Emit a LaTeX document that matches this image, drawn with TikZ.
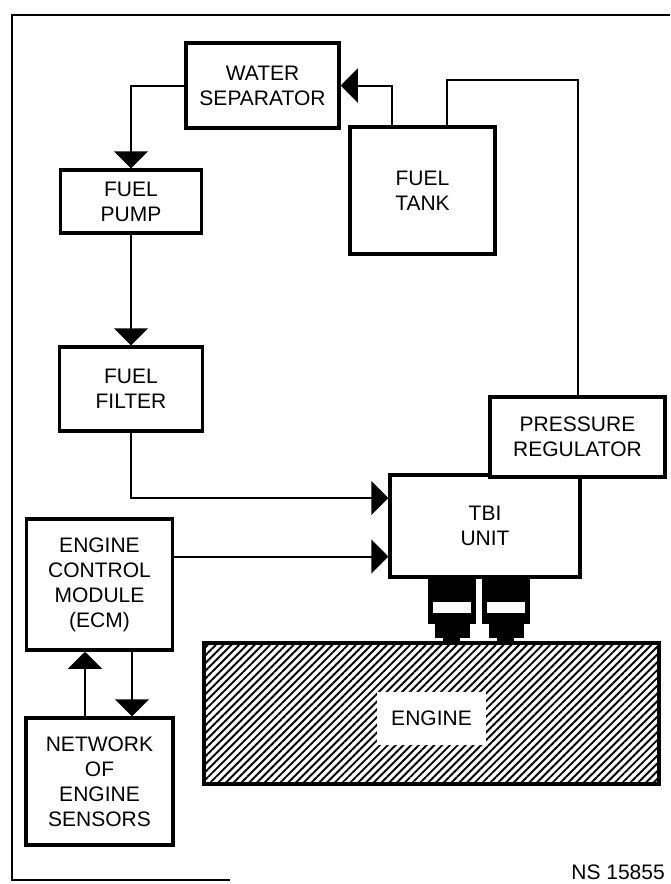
\documentclass[tikz,border=0pt]{standalone}
\usepackage{fontspec}
\setmainfont{Liberation Sans}
\usetikzlibrary{arrows.meta,positioning,patterns.meta}

\begin{document}
\begin{tikzpicture}[x=1pt,y=-1pt,font=\fontsize{21}{25}\selectfont,
 box/.style={draw,line width=3.5pt,fill=white,align=center,inner sep=0pt},
 arrow/.style={-{Triangle[length=17pt,width=34pt]},line width=2pt},
 pipe/.style={line width=2pt}]
\useasboundingbox (0,0) rectangle (670,884);
\draw[pipe] (230,880) -- (12,880) -- (12,15) -- (670,15);
\node[box,minimum width=153pt,minimum height=85pt] (sep) at (262.5,85.5) {WATER\\SEPARATOR};
\node[box,minimum width=145pt,minimum height=127pt] (tank) at (422.5,190.5) {FUEL\\TANK};
\node[box,minimum width=141pt,minimum height=63pt] (pump) at (131,201.5) {FUEL\\PUMP};
\node[box,minimum width=143pt,minimum height=84pt] (filter) at (131,389) {FUEL\\FILTER};
\node[box,minimum width=190pt,minimum height=102pt] (tbi) at (485,526) {TBI\\UNIT};
\node[box,minimum width=175pt,minimum height=80pt] (preg) at (577.5,437) {PRESSURE\\REGULATOR};
\node[box,minimum width=146pt,minimum height=131pt] (ecm) at (99.5,584.5) {ENGINE\\CONTROL\\MODULE\\(ECM)};
\node[box,minimum width=147pt,minimum height=127pt] (sensors) at (99.5,781.5) {NETWORK\\OF\\ENGINE\\SENSORS};
\node[draw,line width=3.5pt,minimum width=455pt,minimum height=141pt,
 pattern={Lines[angle=45,distance=5.5pt,line width=1.9pt]}] (engine) at (431.5,713.5) {};
\node[fill=white,minimum width=109pt,minimum height=53pt,inner sep=0pt] (enginelbl) at ([yshift=-5pt]engine.center) {ENGINE};
\begin{scope}[shift={(tbi.south)}]
\foreach \x in {-57,-3}{
 \fill (\x,0) rectangle ++(48,45);
 \fill[white] (\x+5,23) rectangle ++(38,11);
 \fill (\x+7,45) rectangle ++(35,14);
 \fill (\x+15,59) rectangle ++(17,7);
}
\end{scope}
\node[anchor=base east,inner sep=0pt] (nsno) at (665,879) {NS 15855};
\draw[arrow] ([xshift=-30.5pt]tank.north) |- (sep.east);
\draw[arrow] (sep.west) -| (pump.north);
\draw[arrow] (pump.south) -- (filter.north);
\draw[arrow] (filter.south) |- ([yshift=28pt]tbi.west);
\coordinate (ecmout) at ([yshift=28pt]ecm.east);
\draw[arrow] (ecmout) -- (ecmout -| tbi.west);
\draw[arrow] ([xshift=-14.5pt]sensors.north) -- ([xshift=-14.5pt]ecm.south);
\draw[arrow] ([xshift=32.5pt]ecm.south) -- ([xshift=32.5pt]sensors.north);
\draw[pipe] ([xshift=24.5pt]tank.north) -- ++(0,-45) -| (preg.north);
\end{tikzpicture}
\end{document}
